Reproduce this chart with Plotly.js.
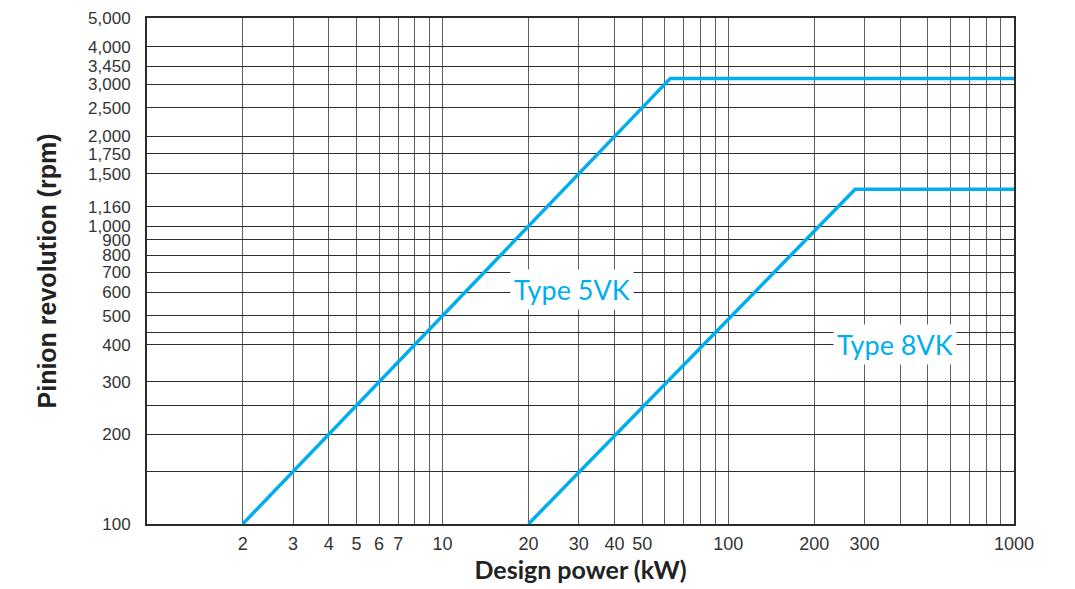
<!DOCTYPE html>
<html><head><meta charset="utf-8">
<script src="https://cdn.plot.ly/plotly-3.0.1.min.js"></script>
<style>html,body{margin:0;padding:0;background:#fff}#chart{width:1075px;height:589px}</style>
</head><body><div id="chart"></div>
<script>
// Data
const type5vkPower = [2, 62.7, 1000];
const type5vkRpm = [100, 3135, 3135];
const type8vkPower = [20, 278, 1000];
const type8vkRpm = [100, 1330, 1330];
const seriesNames = ['Type 5VK', 'Type 8VK'];
const labelPower = [28.4, 383];
const labelRpm = [615, 400];
const xTickValues = [2,3,4,5,6,7,8,9,10,20,30,40,50,60,70,80,90,100,200,300,400,500,600,700,800,900,1000];
const xTickLabels = ['2','3','4','5','6','7','','','10','20','30','40','50','','','','','100','200','300','','','','','','','1000'];
const yTickValues = [100,150,200,250,300,400,440,500,600,700,800,900,1000,1160,1500,1750,2000,2500,3000,3450,4000,5000];
const yTickLabels = ['100','','200','','300','400','','500','600','700','800','900','1,000','1,160','1,500','1,750','2,000','2,500','3,000','3,450','4,000','5,000'];

const lineColor = '#00aeef';
const traces = [
  {x: type5vkPower, y: type5vkRpm, name: seriesNames[0], mode: 'lines', line: {color: lineColor, width: 3.5}},
  {x: type8vkPower, y: type8vkRpm, name: seriesNames[1], mode: 'lines', line: {color: lineColor, width: 3.5}}
];
const layout = {
  width: 1075, height: 589,
  margin: {l: 147, r: 61, t: 18, b: 65},
  paper_bgcolor: '#fff', plot_bgcolor: '#fff',
  showlegend: false,
  xaxis: {
    type: 'log', range: [-0.034, 3], automargin: false,
    tickmode: 'array', tickvals: xTickValues, ticktext: xTickLabels,
    showgrid: true, gridcolor: '#5e5e5e', gridwidth: 1,
    showline: true, mirror: true, linecolor: '#2b2b2b', linewidth: 2,
    zeroline: false, ticks: '', ticklabelstandoff: 2,
    tickfont: {family: 'Liberation Sans, Arial, sans-serif', size: 18, color: '#333'},
    title: {text: 'Design power (kW)', standoff: 8,
      font: {family: 'Lato, sans-serif', size: 25, color: '#222', weight: 'bold'}}
  },
  yaxis: {
    type: 'log', range: [2, Math.log10(5000)], automargin: false,
    tickmode: 'array', tickvals: yTickValues, ticktext: yTickLabels,
    showgrid: true, gridcolor: '#2e2e2e', gridwidth: 1,
    showline: true, mirror: true, linecolor: '#2b2b2b', linewidth: 2,
    zeroline: false, ticks: '', ticklabelstandoff: 11,
    tickfont: {family: 'Liberation Sans, Arial, sans-serif', size: 17, color: '#333'},
    title: {text: 'Pinion revolution (rpm)', standoff: 24,
      font: {family: 'Liberation Sans, Arial, sans-serif', size: 25, color: '#222', weight: 'bold'}}
  },
  annotations: seriesNames.map((name, i) => ({
    x: Math.log10(labelPower[i]), y: Math.log10(labelRpm[i]), xref: 'x', yref: 'y',
    text: name, showarrow: false, bgcolor: '#fff', borderpad: 3,
    font: {family: 'Lato, sans-serif', size: 27, color: lineColor}
  }))
};
Plotly.newPlot('chart', traces, layout, {displayModeBar: false, staticPlot: true});
</script></body></html>
